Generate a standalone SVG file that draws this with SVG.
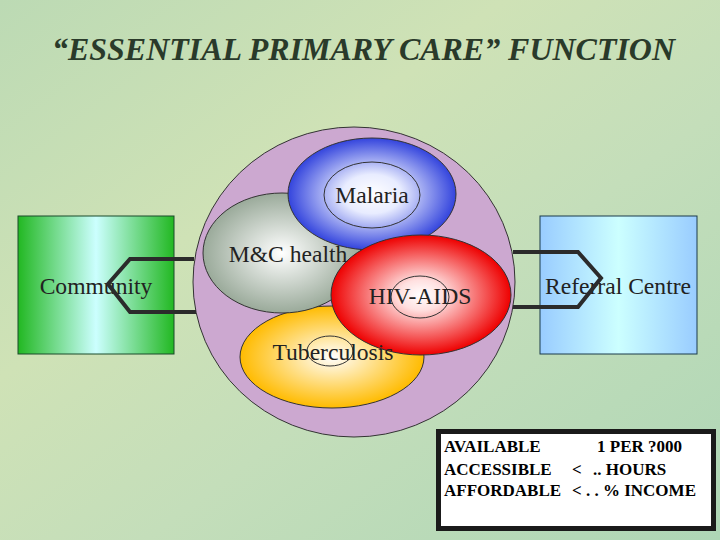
<svg xmlns="http://www.w3.org/2000/svg" width="720" height="540" viewBox="0 0 720 540">
  <defs>
    <linearGradient id="bg" x1="0" y1="0" x2="1" y2="1">
      <stop offset="0" stop-color="#bcdab4"/>
      <stop offset="0.35" stop-color="#cfe2b6"/>
      <stop offset="0.6" stop-color="#c4deba"/>
      <stop offset="1" stop-color="#aed6b6"/>
    </linearGradient>
    <linearGradient id="green" x1="0" y1="0" x2="1" y2="0">
      <stop offset="0" stop-color="#22b822"/>
      <stop offset="0.5" stop-color="#ccffff"/>
      <stop offset="1" stop-color="#22b822"/>
    </linearGradient>
    <linearGradient id="blue" x1="0" y1="0" x2="1" y2="0">
      <stop offset="0" stop-color="#99ccff"/>
      <stop offset="0.5" stop-color="#ccffff"/>
      <stop offset="1" stop-color="#99ccff"/>
    </linearGradient>
    <radialGradient id="gMal"><stop offset="0" stop-color="#ffffff"/><stop offset="0.35" stop-color="#e8ecff"/><stop offset="1" stop-color="#3344dd"/></radialGradient>
    <radialGradient id="gMC"><stop offset="0" stop-color="#ffffff"/><stop offset="1" stop-color="#9aaa9a"/></radialGradient>
    <radialGradient id="gTB"><stop offset="0" stop-color="#ffffff"/><stop offset="1" stop-color="#ffbb00"/></radialGradient>
    <radialGradient id="gHIV"><stop offset="0" stop-color="#ffffff"/><stop offset="0.25" stop-color="#ffe0e0"/><stop offset="1" stop-color="#ee0000"/></radialGradient>
  </defs>
  <style>
    .lbl { font-family: "Liberation Serif", "Times New Roman", serif; font-size: 23.6px; fill: #222; }
    .ell { stroke: #333; stroke-width: 1; }
    .inner { fill: none; stroke: #333; stroke-width: 1; }
    .conn { fill: none; stroke: #2b2b2b; stroke-width: 4; stroke-linejoin: miter; }
    .bt { font-family: "Liberation Serif", "Times New Roman", serif; font-size: 17px; font-weight: bold; fill: #000; }
    .title { font-family: "Liberation Serif", "Times New Roman", serif; font-size: 32px; font-style: italic; font-weight: bold; fill: #2a3a2a; }
  </style>
  <rect width="720" height="540" fill="url(#bg)"/>
  <text class="title" x="52" y="60" textLength="623" lengthAdjust="spacingAndGlyphs">“ESSENTIAL PRIMARY CARE” FUNCTION</text>

  <g id="community">
    <rect x="18" y="216" width="156" height="138" fill="url(#green)" stroke="#1a4a2a" stroke-width="1"/>
    <text class="lbl" x="96" y="294" text-anchor="middle" fill="#1a3a2a">Community</text>
  </g>
  <g id="referral">
    <rect x="540" y="216" width="157" height="138" fill="url(#blue)" stroke="#1a3a4a" stroke-width="1"/>
    <text class="lbl" x="618" y="294" text-anchor="middle" fill="#1a2a4a">Referral Centre</text>
  </g>

  <g id="care">
    <ellipse cx="354" cy="282" rx="161" ry="155" fill="#cca8d0" class="ell"/>
  </g>
  <g id="tuberculosis">
    <ellipse cx="332" cy="357" rx="92" ry="51" fill="url(#gTB)" class="ell"/>
    <ellipse cx="330" cy="351" rx="23" ry="15" class="inner"/>
  </g>
  <g id="mch">
    <ellipse cx="282" cy="253" rx="79" ry="60" fill="url(#gMC)" class="ell"/>
  </g>
  <g id="malaria">
    <ellipse cx="372" cy="194" rx="84" ry="56" fill="url(#gMal)" class="ell"/>
    <ellipse cx="372" cy="195" rx="48" ry="33" class="inner"/>
    <text class="lbl" x="372" y="203" text-anchor="middle">Malaria</text>
  </g>
  <g id="hiv">
    <ellipse cx="421" cy="295" rx="90" ry="60" fill="url(#gHIV)" class="ell"/>
    <ellipse cx="420" cy="297" rx="29" ry="21" class="inner"/>
    <text class="lbl" x="420" y="304" text-anchor="middle">HIV-AIDS</text>
  </g>
  <text class="lbl" x="288" y="262" text-anchor="middle">M&amp;C health</text>
  <text class="lbl" x="333" y="360" text-anchor="middle">Tuberculosis</text>

  <g id="connectors">
    <polyline class="conn" points="194,259 130,259 108,284 130,312 196,312"/>
    <polyline class="conn" points="513,252 578,252 601,278 578,307 513,307"/>
  </g>

  <g id="criteria">
    <rect x="438.5" y="431.5" width="275" height="97" fill="#ffffff" stroke="#1a1a1a" stroke-width="5"/>
    <text class="bt" x="444" y="452">AVAILABLE</text>
    <text class="bt" x="597" y="452">1 PER ?000</text>
    <text class="bt" x="444" y="475">ACCESSIBLE</text>
    <text class="bt" x="572" y="475">&lt;</text>
    <text class="bt" x="593" y="475">.. HOURS</text>
    <text class="bt" x="444" y="496">AFFORDABLE</text>
    <text class="bt" x="572" y="496">&lt; . . % INCOME</text>
  </g>
</svg>
